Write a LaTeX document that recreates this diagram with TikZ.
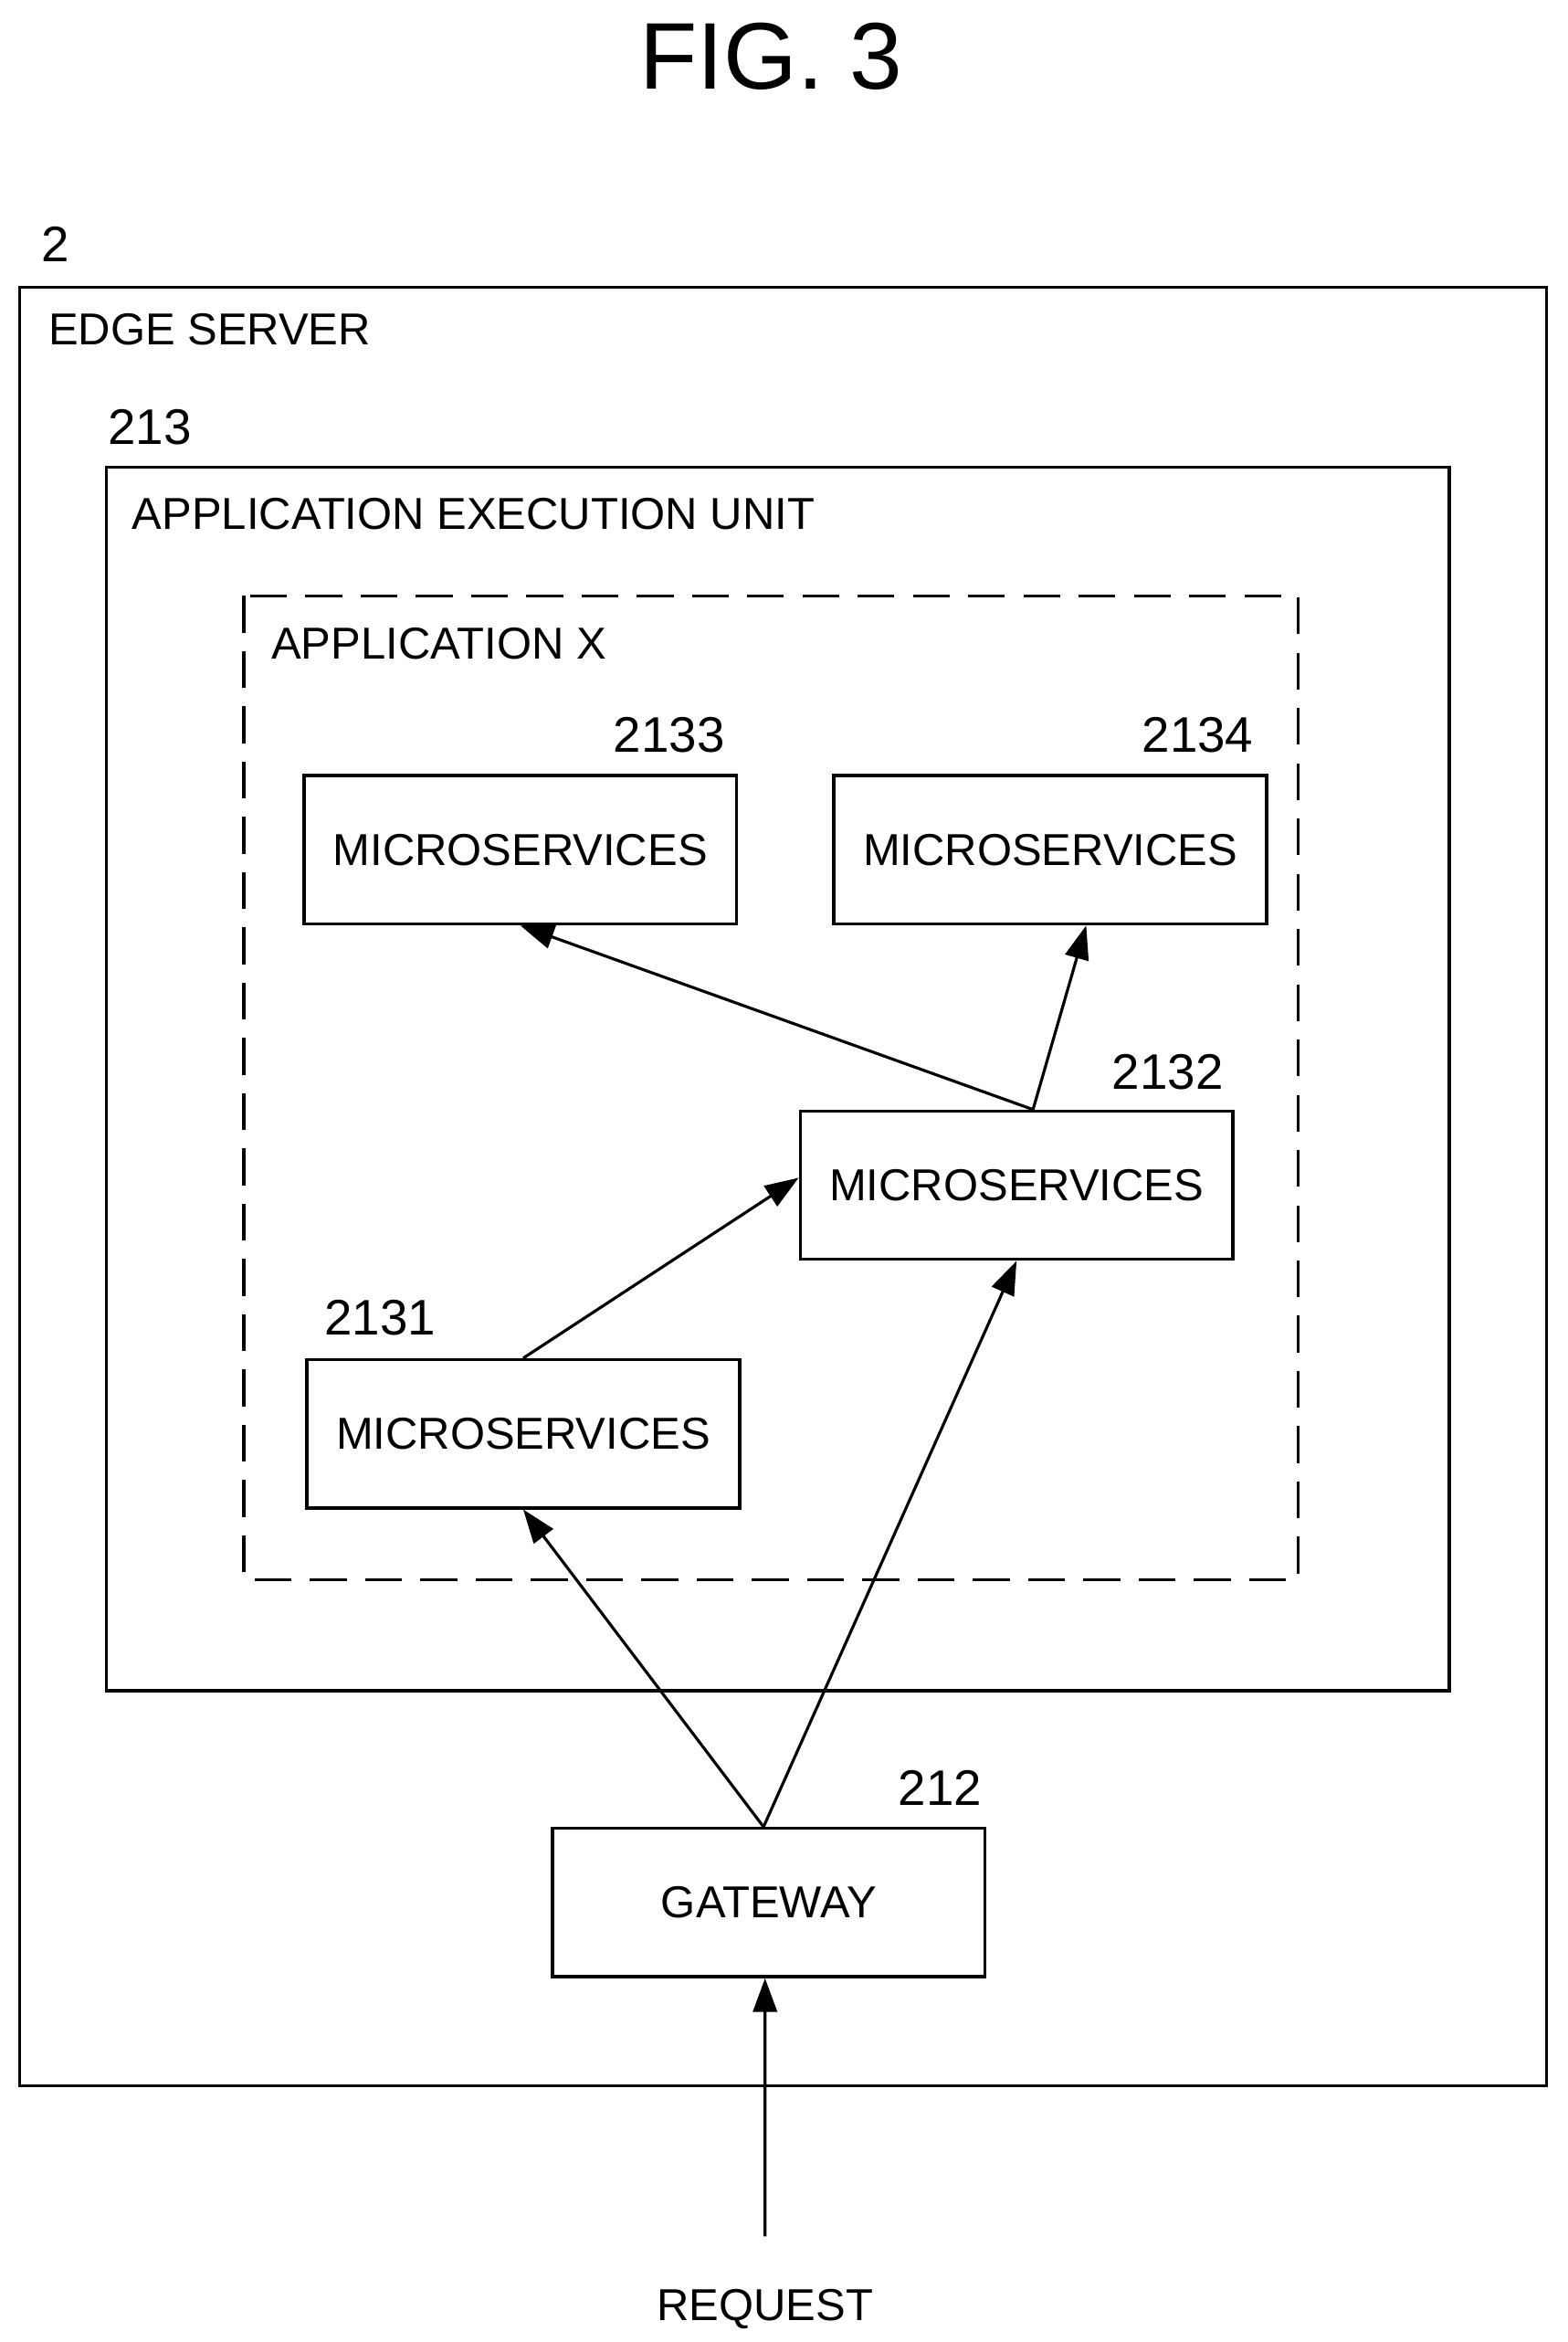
\documentclass[tikz,border=0pt]{standalone}
\usepackage{fontspec}
\setmainfont{Liberation Sans}
\usetikzlibrary{arrows.meta}
\tikzset{
  box/.style={draw, line width=1.2pt, minimum width=5.78cm, minimum height=1.98cm, inner sep=0pt, font=\fontsize{17}{20}\selectfont},
  lbl/.style={font=\fontsize{17}{20}\selectfont, inner sep=0pt},
  num/.style={font=\fontsize{19}{22}\selectfont, inner sep=0pt},
  link/.style={line width=1.1pt, -{Stealth[length=0.45cm, width=0.32cm, inset=0pt]}}
}
\begin{document}
\begin{tikzpicture}[x=0.02cm, y=-0.02cm]
  \useasboundingbox (0,0) rectangle (1047,1564);
  \node[font=\fontsize{36}{40}\selectfont] (title) at (515,38) {FIG. 3};

  % enclosing frames
  \draw[line width=1.2pt] (13,192) rectangle (1033,1393);
  \draw[line width=1.2pt] (71,312) rectangle (968,1129);
  \draw[line width=1.2pt, dash pattern=on 14pt off 7pt] (163,398) rectangle (867,1055);
  \node[num] (l2) at (37,163) {2};
  \node[lbl, anchor=west] (edge) at (32,220) {EDGE SERVER};
  \node[num] (l213) at (100,285) {213};
  \node[lbl, anchor=west] (aeu) at (88,343) {APPLICATION EXECUTION UNIT};
  \node[lbl, anchor=west] (appx) at (181,430) {APPLICATION X};

  % microservices
  \node[box] (n2133) at (347.5,567.5) {MICROSERVICES};
  \node[box] (n2134) at (701.5,567.5) {MICROSERVICES};
  \node[box] (n2132) at (679,791.5) {MICROSERVICES};
  \node[box] (n2131) at (349.5,957.5) {MICROSERVICES};
  \node[box] (gw) at (513.5,1270.5) {GATEWAY};
  \node[num] (l2133) at (447,491) {2133};
  \node[num] (l2134) at (800,491) {2134};
  \node[num] (l2132) at (780,716) {2132};
  \node[num] (l2131) at (254,880) {2131};
  \node[num] (l212) at (628,1194) {212};
  \node[lbl] (req) at (511,1542) {REQUEST};

  % connectors
  \draw[link] ([yshift=0.7cm]req.north) -- ([xshift=-0.05cm]gw.south);
  \draw[link] ([xshift=-0.07cm]gw.north) -- (n2131.south);
  \draw[link] ([xshift=-0.07cm]gw.north) -- (n2132.south);
  \draw[link] (n2131.north) -- ([yshift=0.1cm]n2132.west);
  \draw[link] ([xshift=0.22cm]n2132.north) -- (n2133.south);
  \draw[link] ([xshift=0.22cm]n2132.north) -- ([xshift=0.48cm]n2134.south);
\end{tikzpicture}
\end{document}
